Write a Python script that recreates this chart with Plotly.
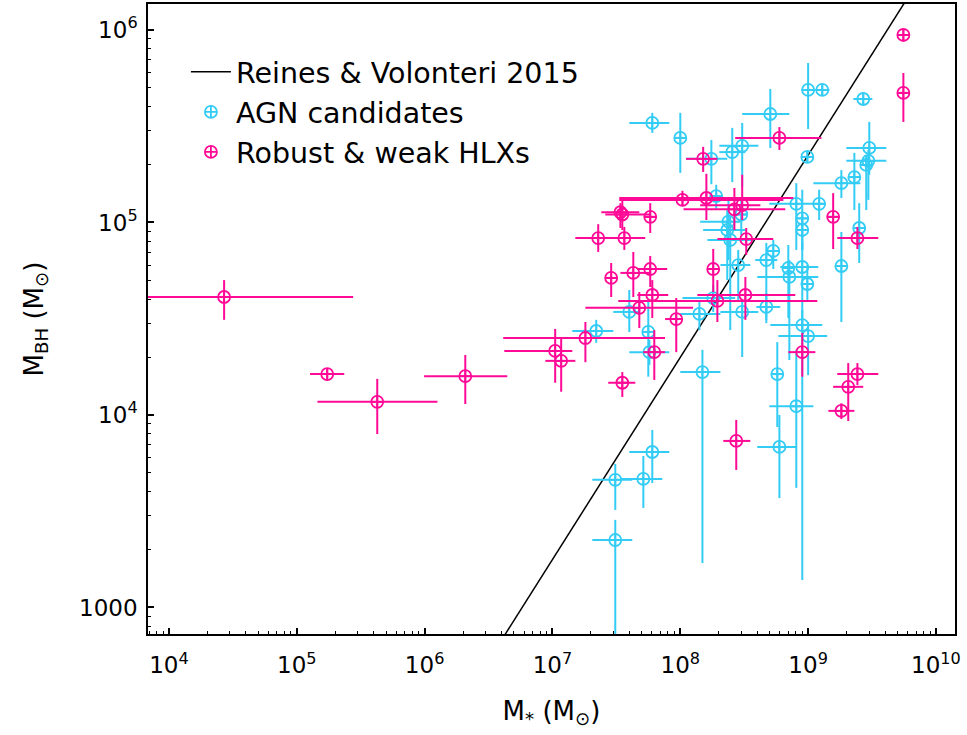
import numpy as np
import plotly.graph_objects as go

# ---------------- data ----------------
# Reines & Volonteri 2015 relation (two end values of the straight log-log line)
rv_mstar = [1.0e6, 1.0e11]
rv_mbh = [1.58e2, 2.82e7]

# AGN candidates
agn_mstar = [6.04e7, 1.0e8, 1.75e8, 2.55e8, 3.05e8, 5.06e8, 1.0e9, 1.29e9, 2.7e9, 9.86e8,
             3.01e9, 2.96e9, 2.85e9, 2.3e9, 1.82e9, 8.08e8, 1.22e9, 9.0e8, 9.0e8, 2.51e9,
             1.91e8, 2.38e8, 2.33e8, 2.46e8, 3.0e8, 5.34e8, 4.71e8, 2.84e8, 7.0e8, 7.13e8,
             9.0e8, 9.86e8, 1.82e9, 1.81e8, 4.71e8, 3.05e8, 1.41e8, 3.99e7, 2.2e7, 5.62e7,
             5.73e7, 9.0e8, 1.0e9, 1.49e8, 5.74e8, 8.08e8, 5.96e8, 6.04e7, 5.14e7, 3.1e7, 3.1e7]
agn_mstar_lo = [3.99e7, 9.14e7, 1.11e8, 2.02e8, 2.02e8, 3.05e8, 8.85e8, 1.14e9, 2.26e9, 8.85e8,
                1.99e9, 1.99e9, 2.56e9, 2.06e9, 1.1e9, 4.97e8, 1.1e9, 8.08e8, 8.08e8, 2.26e9,
                1.72e8, 1.43e8, 1.51e8, 1.63e8, 2.69e8, 4.8e8, 3.86e8, 2.06e8, 6.28e8, 4.0e8,
                6.06e8, 8.85e8, 1.63e9, 1.04e8, 3.93e8, 2.06e8, 1.0e8, 2.99e7, 1.43e7, 5.05e7,
                3.99e7, 5.06e8, 5.85e8, 1.0e8, 5.15e8, 4.97e8, 4.0e8, 3.99e7, 3.4e7, 2.05e7, 2.05e7]
agn_mstar_hi = [8.2e7, 1.09e8, 2.33e8, 3.23e8, 4.08e8, 7.13e8, 1.14e9, 1.47e9, 3.18e9, 1.1e9,
                4.09e9, 4.09e9, 3.18e9, 2.56e9, 2.56e9, 1.32e9, 1.36e9, 1.0e9, 1.0e9, 2.8e9,
                2.13e8, 2.95e8, 3.23e8, 3.72e8, 3.34e8, 5.96e8, 5.74e8, 3.53e8, 7.8e8, 1.2e9,
                1.2e9, 1.1e9, 2.03e9, 2.69e8, 6.06e8, 4.08e8, 2.06e8, 4.78e7, 2.99e7, 6.26e7,
                8.2e7, 1.29e9, 1.41e9, 2.06e8, 6.4e8, 1.1e9, 8.08e8, 8.2e7, 7.23e7, 4.21e7, 4.21e7]
agn_mbh = [3.29e5, 2.75e5, 2.14e5, 2.32e5, 2.5e5, 3.66e5, 4.88e5, 4.88e5, 4.38e5, 2.19e5,
           2.44e5, 2.09e5, 1.99e5, 1.72e5, 1.6e5, 1.25e5, 1.25e5, 1.05e5, 9.14e4, 9.36e4,
           1.37e5, 1.01e5, 9.14e4, 8.11e4, 1.1e5, 7.11e4, 6.38e4, 6.01e4, 5.8e4, 5.21e4,
           5.87e4, 4.79e4, 5.94e4, 4.05e4, 3.64e4, 3.43e4, 3.35e4, 3.43e4, 2.73e4, 2.7e4,
           2.12e4, 2.93e4, 2.57e4, 1.67e4, 1.63e4, 1.11e4, 6.82e3, 6.42e3, 4.65e3, 4.6e3, 2.24e3]
agn_mbh_lo = [2.92e5, 1.81e5, 1.58e5, 1.62e5, 1.53e5, 2.44e5, 3.06e5, 4.54e5, 4.07e5, 2.04e5,
              1.77e5, 1.31e5, 1.16e5, 1.16e5, 1.34e5, 7.2e4, 1.03e5, 7.2e4, 7.2e4, 6.16e4,
              1.16e5, 6.38e4, 5.02e4, 2.76e4, 8.61e4, 5.73e4, 3.12e4, 3.96e4, 3.19e4, 1.93e4,
              2.76e4, 3.96e4, 3.04e4, 3.43e4, 3.0e4, 2.0e4, 2.76e4, 2.7e4, 2.37e4, 1.58e4,
              1.82e4, 1.39e3, 1.61e4, 1.7e3, 8.66e3, 4.18e3, 3.7e3, 4.43e3, 3.29e3, 3.21e3, 5.0e2]
agn_mbh_hi = [3.71e5, 3.71e5, 2.68e5, 3.1e5, 3.29e5, 4.94e5, 6.74e5, 5.24e5, 4.71e5, 2.35e5,
              3.33e5, 2.38e5, 2.24e5, 2.3e5, 1.87e5, 1.6e5, 1.48e5, 1.48e5, 1.09e5, 1.26e5,
              1.57e5, 1.31e5, 1.16e5, 1.09e5, 1.31e5, 8.11e4, 7.83e4, 7.2e4, 7.64e4, 6.38e4,
              7.92e4, 6.01e4, 8.93e4, 4.73e4, 4.3e4, 3.96e4, 3.86e4, 4.46e4, 3.12e4, 3.96e4,
              2.45e4, 3.51e4, 3.04e4, 2.18e4, 2.39e4, 2.18e4, 1.0e4, 8.36e3, 6.12e3, 5.57e3, 2.85e3]

# Robust & weak HLXs
hlx_mstar = [2.7e4, 1.73e5, 4.26e5, 2.08e6, 1.05e7, 1.17e7, 1.81e7, 3.52e7, 6.26e7, 9.3e7,
             4.78e7, 6.04e7, 1.95e8, 3.23e8, 4.29e7, 5.82e7, 2.88e7, 1.81e8, 2.28e7, 3.65e7,
             3.4e7, 3.52e7, 5.82e7, 1.04e8, 1.6e8, 2.65e8, 3.05e8, 3.28e8, 1.51e8, 5.96e8,
             1.57e9, 2.43e9, 9.0e8, 2.43e9, 2.06e9, 1.82e9, 2.74e8, 5.56e9, 5.56e9]
hlx_mstar_lo = [2.5e3, 1.27e5, 1.45e5, 9.9e5, 4.2e6, 8.8e6, 4.12e6, 2.73e7, 5.14e7, 7.6e7,
                1.81e7, 4.61e7, 3.27e7, 1.36e8, 3.4e7, 4.61e7, 2.59e7, 1.63e8, 1.51e7, 2.37e7,
                2.41e7, 2.59e7, 5.23e7, 3.33e7, 3.33e7, 1.06e8, 1.43e8, 1.95e8, 1.11e8, 2.69e8,
                1.41e9, 1.69e9, 7.0e8, 1.69e9, 1.57e9, 1.44e9, 2.17e8, 4.99e9, 4.99e9]
hlx_mstar_hi = [2.76e5, 2.35e5, 1.26e6, 4.43e6, 1.43e7, 1.51e7, 7.6e7, 4.45e7, 7.6e7, 1.05e8,
                1.26e8, 8.05e7, 1.18e9, 7.94e8, 5.82e7, 7.9e7, 3.21e7, 2.02e8, 3.4e7, 5.32e7,
                4.78e7, 5.82e7, 6.49e7, 6.4e8, 7.66e8, 6.63e8, 4.23e8, 5.34e8, 1.95e8, 1.27e9,
                1.75e9, 3.54e9, 1.14e9, 3.54e9, 2.7e9, 2.3e9, 3.53e8, 6.19e9, 6.19e9]
hlx_mbh = [4.1e4, 1.63e4, 1.17e4, 1.59e4, 2.15e4, 1.91e4, 2.51e4, 1.47e4, 2.12e4, 3.15e4,
           3.6e4, 4.2e4, 3.91e4, 4.2e4, 5.47e4, 5.73e4, 5.15e4, 5.73e4, 8.3e4, 8.3e4,
           1.13e5, 1.1e5, 1.07e5, 1.31e5, 1.34e5, 1.17e5, 1.23e5, 8.2e4, 2.14e5, 2.75e5,
           1.07e5, 8.3e4, 2.12e4, 1.63e4, 1.4e4, 1.05e4, 7.33e3, 9.42e5, 4.71e5]
hlx_mbh_lo = [3.12e4, 1.54e4, 7.96e3, 1.14e4, 1.47e4, 1.32e4, 1.88e4, 1.24e4, 1.52e4, 2.12e4,
              2.83e4, 3.19e4, 3.04e4, 3.12e4, 4.1e4, 4.62e4, 4.1e4, 4.35e4, 7.03e4, 7.2e4,
              9.36e4, 9.14e4, 8.82e4, 1.22e5, 1.03e5, 9.14e4, 1.03e5, 6.78e4, 1.83e5, 2.38e5,
              7.28e4, 7.28e4, 1.58e4, 1.43e4, 9.3e3, 9.53e3, 5.18e3, 8.77e5, 3.33e5]
hlx_mbh_hi = [5.02e4, 1.73e4, 1.54e4, 2.05e4, 2.8e4, 2.51e4, 3.04e4, 1.67e4, 2.76e4, 4.05e4,
              4.35e4, 5.02e4, 5.02e4, 5.21e4, 7.03e4, 6.7e4, 6.16e4, 7.28e4, 9.8e4, 9.48e4,
              1.26e5, 1.31e5, 1.26e5, 1.46e5, 1.79e5, 1.51e5, 1.77e5, 9.36e4, 2.47e5, 3.13e5,
              1.42e5, 9.48e4, 2.67e4, 1.86e4, 1.86e4, 1.15e4, 9.42e3, 1.01e6, 5.98e5]

x_tickvals = [1e4, 1e5, 1e6, 1e7, 1e8, 1e9, 1e10]
x_ticktext = ["10<sup>4</sup>", "10<sup>5</sup>", "10<sup>6</sup>", "10<sup>7</sup>",
              "10<sup>8</sup>", "10<sup>9</sup>", "10<sup>10</sup>"]
y_tickvals = [1e3, 1e4, 1e5, 1e6]
y_ticktext = ["1000", "10<sup>4</sup>", "10<sup>5</sup>", "10<sup>6</sup>"]

# ---------------- figure ----------------
CYAN = "#33ccf5"
PINK = "#ff0a96"
FONT = "DejaVu Sans"


def errs(v, lo, hi):
    v, lo, hi = np.array(v), np.array(lo), np.array(hi)
    return (hi - v).tolist(), (v - lo).tolist()


fig = go.Figure()

fig.add_trace(go.Scatter(
    x=rv_mstar, y=rv_mbh, mode="lines", name="Reines &amp; Volonteri 2015",
    line=dict(color="black", width=1.5), cliponaxis=True))

for name, xs, xlo, xhi, ys, ylo, yhi, col in [
    ("AGN candidates", agn_mstar, agn_mstar_lo, agn_mstar_hi, agn_mbh, agn_mbh_lo, agn_mbh_hi, CYAN),
    ("Robust &amp; weak HLXs", hlx_mstar, hlx_mstar_lo, hlx_mstar_hi, hlx_mbh, hlx_mbh_lo, hlx_mbh_hi, PINK),
]:
    xp, xm = errs(xs, xlo, xhi)
    yp, ym = errs(ys, ylo, yhi)
    fig.add_trace(go.Scatter(
        x=xs, y=ys, mode="markers", name=name,
        marker=dict(symbol="circle-cross-open", size=12, color=col, line=dict(color=col, width=1.8)),
        error_x=dict(type="data", symmetric=False, array=xp, arrayminus=xm, color=col, thickness=2, width=0),
        error_y=dict(type="data", symmetric=False, array=yp, arrayminus=ym, color=col, thickness=2, width=0),
        cliponaxis=True))

# minor tick positions (2..9 x each decade)
minor_x = [m * 10.0 ** d for d in range(3, 11) for m in range(2, 10)]
minor_y = [m * 10.0 ** d for d in range(2, 7) for m in range(2, 10)]

axis_common = dict(
    type="log", showgrid=False, zeroline=False, showline=True, linecolor="black", linewidth=1.5,
    mirror=True, ticks="inside", ticklen=6, tickwidth=1.5, tickcolor="black", automargin=False,
    tickfont=dict(family=FONT, size=23, color="black"),
)

fig.update_xaxes(**axis_common, range=[3.836, 10.149], tickmode="array",
                 tickvals=x_tickvals, ticktext=x_ticktext, ticklabelstandoff=10,
                 minor=dict(tickmode="array", tickvals=minor_x, ticks="inside", ticklen=3.5,
                            tickwidth=1, tickcolor="black", showgrid=False),
                 title=dict(text="M<sub>*</sub> (M<sub>⊙</sub>)", font=dict(family=FONT, size=26, color="black"),
                            standoff=24))
fig.update_yaxes(**axis_common, range=[2.862, 6.135], tickmode="array", tickvals=y_tickvals,
                 ticktext=y_ticktext, ticklabelstandoff=4,
                 minor=dict(tickmode="array", tickvals=minor_y, ticks="inside", ticklen=3.5,
                            tickwidth=1, tickcolor="black", showgrid=False),
                 title=dict(text="M<sub>BH</sub> (M<sub>⊙</sub>)", font=dict(family=FONT, size=26, color="black"),
                            standoff=28))

fig.update_layout(
    width=967, height=735,
    margin=dict(l=148, r=12, t=4, b=101, autoexpand=False),
    paper_bgcolor="white", plot_bgcolor="white",
    font=dict(family=FONT, color="black"),
    legend=dict(x=0.047, y=0.932, xanchor="left", yanchor="top", bgcolor="rgba(0,0,0,0)",
                font=dict(family=FONT, size=28.5, color="black"), itemwidth=40),
    showlegend=True,
)

fig.write_html("out.html", config={"displayModeBar": False},
               post_script="document.body.style.margin='0px';")
